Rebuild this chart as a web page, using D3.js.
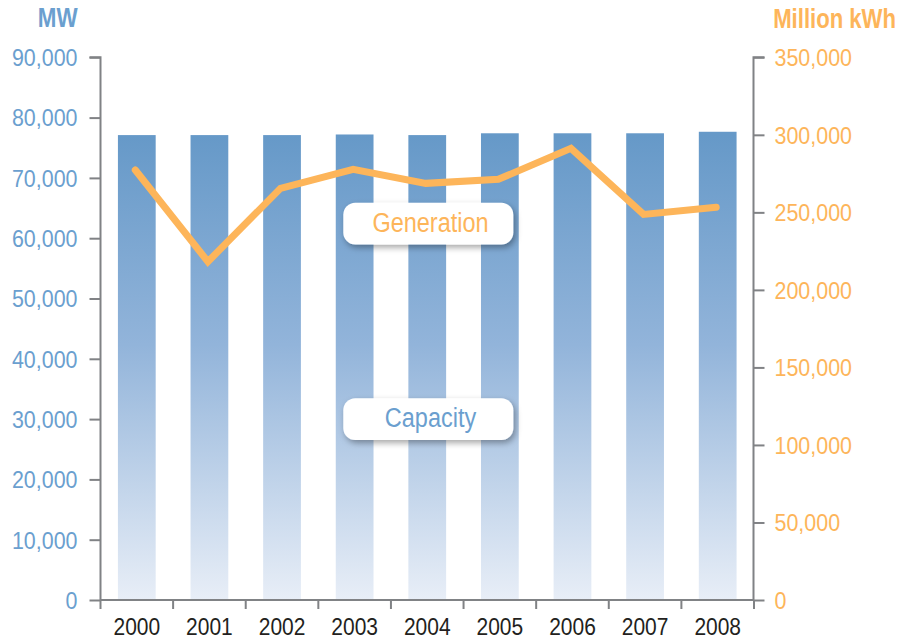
<!DOCTYPE html>
<html><head><meta charset="utf-8">
<script src="https://cdn.jsdelivr.net/npm/d3@7"></script>
<style>
body{margin:0;background:#fff;}
svg{display:block;}
</style></head>
<body>
<svg id="chart" width="903" height="639"></svg>
<script>
const years = ["2000","2001","2002","2003","2004","2005","2006","2007","2008"];
const capacityMW = [77100, 77100, 77100, 77200, 77100, 77400, 77400, 77400, 77650];
const generationMkWh = [277300, 218200, 265500, 277800, 268700, 271300, 291300, 248700, 253300];
const leftTicks = [0,10000,20000,30000,40000,50000,60000,70000,80000,90000];
const rightTicks = [0,50000,100000,150000,200000,250000,300000,350000];

const svg = d3.select("#chart");
const FONT = "'Liberation Sans',Arial,sans-serif";
const BLUE = "#6b9fcf", ORANGE = "#fdb55a", AXIS = "#808285";
const x0 = 100.5, x1 = 754, yTop = 57.3, yBot = 600;

// condense text horizontally (reference uses a condensed face)
function condense(sel, f) {
  sel.each(function() {
    const len = this.getComputedTextLength();
    d3.select(this).attr("textLength", len * f).attr("lengthAdjust", "spacingAndGlyphs");
  });
}

const x = d3.scaleBand().domain(years).range([x0, x1]).paddingInner(0.48).paddingOuter(0.24);
const xb = d3.scaleBand().domain(years).range([x0, x1]);
const yL = d3.scaleLinear().domain([0, 90000]).range([yBot, yTop]);
const yR = d3.scaleLinear().domain([0, 350000]).range([yBot, yTop]);

const defs = svg.append("defs");
const grad = defs.append("linearGradient").attr("id","barGrad")
  .attr("gradientUnits","userSpaceOnUse").attr("x1",0).attr("x2",0)
  .attr("y1", yL(77000)).attr("y2", yBot);
grad.append("stop").attr("offset","0%").attr("stop-color","#6699c8");
grad.append("stop").attr("offset","45%").attr("stop-color","#92b4da");
grad.append("stop").attr("offset","100%").attr("stop-color","#e8eef7");

const filt = defs.append("filter").attr("id","shadow").attr("x","-20%").attr("y","-30%").attr("width","140%").attr("height","180%");
filt.append("feDropShadow").attr("dx",2).attr("dy",3).attr("stdDeviation",3).attr("flood-color","#000").attr("flood-opacity",0.35);

// bars
svg.append("g").selectAll("rect").data(years).join("rect")
  .attr("x", d => x(d)).attr("width", x.bandwidth())
  .attr("y", (d,i) => yL(capacityMW[i]))
  .attr("height", (d,i) => yBot - yL(capacityMW[i]))
  .attr("fill","url(#barGrad)");

// line
const line = d3.line().x((d,i) => xb(years[i]) + xb.bandwidth()/2 - 1.5).y(d => yR(d));
svg.append("path").datum(generationMkWh).attr("d", line)
  .attr("fill","none").attr("stroke", ORANGE).attr("stroke-width", 7)
  .attr("stroke-linecap","round").attr("stroke-linejoin","miter");

// axes
const gL = svg.append("g").attr("transform", `translate(${x0},0)`)
  .call(d3.axisLeft(yL).tickValues(leftTicks).tickSize(11).tickPadding(12).tickFormat(d3.format(",")));
const gR = svg.append("g").attr("transform", `translate(${x1-0.5},0)`)
  .call(d3.axisRight(yR).tickValues(rightTicks).tickSize(11).tickPadding(10).tickFormat(d3.format(",")));
const gB = svg.append("g").attr("transform", `translate(0,${yBot})`)
  .call(d3.axisBottom(xb).tickSize(0).tickPadding(18));
// bottom tick marks at band boundaries
svg.append("g").selectAll("line").data(years.concat(["end"])).join("line")
  .attr("x1", (d,i) => i < years.length ? xb(d) : x1).attr("x2", (d,i) => i < years.length ? xb(d) : x1)
  .attr("y1", yBot).attr("y2", yBot + 9).attr("stroke", AXIS).attr("stroke-width", 2);

[gL, gR, gB].forEach(g => {
  g.selectAll(".domain").attr("stroke", AXIS).attr("stroke-width", 2);
  g.selectAll(".tick line").attr("stroke", AXIS).attr("stroke-width", 2);
  g.selectAll("text").attr("font-family", FONT).attr("font-size", 23.3);
});
gL.select(".domain").attr("d", `M-11,${yTop}H0V${yBot}`);
gR.select(".domain").attr("d", `M11,${yTop}H0V${yBot}`);
gB.select(".domain").attr("d", `M${x0},0H${x1}`);
gL.selectAll("text").attr("fill", BLUE).attr("dy","0.36em").call(condense, 0.92);
gR.selectAll("text").attr("fill", ORANGE).attr("dy","0.36em").call(condense, 0.92);
gB.selectAll("text").attr("fill", "#231f20").call(condense, 0.9);

// axis titles (horizontally condensed via transform)
svg.append("g").attr("transform", "translate(57.7,26.7) scale(0.8,1)")
  .append("text").attr("text-anchor","middle")
  .attr("font-family", FONT).attr("font-weight","bold").attr("font-size", 28).attr("fill", BLUE).text("MW");
svg.append("g").attr("transform", "translate(896,27.5) scale(0.79,1)")
  .append("text").attr("text-anchor","end")
  .attr("font-family", FONT).attr("font-weight","bold").attr("font-size", 28).attr("fill", ORANGE).text("Million kWh");

// callout labels
const callouts = [
  {text:"Generation", color: ORANGE, top: 202.7, base: 232.3},
  {text:"Capacity", color: BLUE, top: 398.3, base: 427.3}
];
callouts.forEach(c => {
  const g = svg.append("g");
  g.append("rect").attr("x", 343.3).attr("y", c.top).attr("width", 170).attr("height", 41.7)
    .attr("rx", 12).attr("fill", "#fff").attr("filter","url(#shadow)");
  g.append("text").attr("x", 430.5).attr("y", c.base).attr("text-anchor","middle")
    .attr("font-family", FONT).attr("font-size", 27).attr("fill", c.color).text(c.text)
    .call(condense, 0.87);
});
</script>
</body></html>
